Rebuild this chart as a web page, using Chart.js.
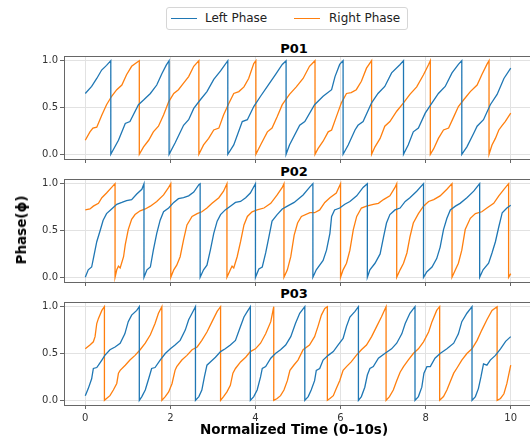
<!DOCTYPE html>
<html>
<head>
<meta charset="utf-8">
<title>Phase</title>
<script src="https://cdn.jsdelivr.net/npm/chart.js@4.4.1/dist/chart.umd.min.js"></script>
<style>
  body { margin: 0; background: #fff; font-family: "DejaVu Sans", sans-serif; }
  #fig { position: relative; width: 530px; height: 441px; overflow: hidden; background: #fff; }
  .panel { position: absolute; left: 0; }
  .ptitle { position: absolute; font-weight: bold; font-size: 13px; line-height: 13px; transform: translate(-50%, -50%); color: #000; white-space: nowrap; }
  #legend { position: absolute; left: 166px; top: 7px; width: 240px; height: 21px; border: 1px solid #d6d6d6; border-radius: 3px; background: #fff; }
  .lg-line { position: absolute; top: 10px; height: 1.4px; width: 26px; }
  .lg-text { position: absolute; top: 3px; font-size: 12px; line-height: 15px; color: #222; white-space: nowrap; }
  #ylabel { position: absolute; left: 21px; top: 230px; transform: translate(-50%, -50%) rotate(-90deg); font-weight: bold; font-size: 13.5px; white-space: nowrap; }
  #xlabel { position: absolute; left: 294px; top: 429px; transform: translate(-50%, -50%); font-weight: bold; font-size: 13.5px; white-space: nowrap; }
</style>
</head>
<body>
<div id="fig">
  <div id="legend">
    <div class="lg-line" style="left:4px;background:#1f77b4"></div>
    <div class="lg-text" style="left:38px">Left Phase</div>
    <div class="lg-line" style="left:127px;background:#ff7f0e"></div>
    <div class="lg-text" style="left:162px">Right Phase</div>
  </div>
  <div class="ptitle" style="left:294px;top:47.5px">P01</div>
  <div class="ptitle" style="left:294px;top:170.5px">P02</div>
  <div class="ptitle" style="left:294px;top:292.5px">P03</div>
  <canvas id="c1" class="panel" width="534" height="111" style="top:54px"></canvas>
  <canvas id="c2" class="panel" width="534" height="111" style="top:177px"></canvas>
  <canvas id="c3" class="panel" width="534" height="127" style="top:300px"></canvas>
  <div id="ylabel">Phase(ϕ)</div>
  <div id="xlabel">Normalized Time (0–10s)</div>
</div>
<script>
'use strict';

const subjects = ['P01', 'P02', 'P03'];
const seriesNames = ['Left Phase', 'Right Phase'];
const xTicks = [0, 2, 4, 6, 8, 10];
const yTicks = [0, 0.5, 1.0];

// [time, phase] pairs; a reset is a pair at the same time (1 -> 0)
const p01Left = [
  [0, 0.65], [0.15, 0.725], [0.27, 0.81], [0.385, 0.9], [0.5, 0.95], [0.6, 1.0],
  [0.6, 0], [0.78, 0.15], [0.94, 0.33], [1.05, 0.35], [1.25, 0.53], [1.37, 0.58], [1.53, 0.65], [1.68, 0.74], [1.8, 0.86], [1.9, 0.95], [1.97, 1.0],
  [1.97, 0], [2.11, 0.12], [2.31, 0.31], [2.43, 0.37], [2.55, 0.49], [2.7, 0.58], [2.86, 0.67], [3.02, 0.8], [3.18, 0.89], [3.35, 1.0],
  [3.35, 0], [3.49, 0.1], [3.69, 0.35], [3.81, 0.37], [3.96, 0.51], [4.12, 0.62], [4.28, 0.725], [4.47, 0.85], [4.63, 0.96], [4.72, 1.0],
  [4.72, 0], [4.8, 0.1], [5.04, 0.31], [5.16, 0.35], [5.39, 0.53], [5.59, 0.62], [5.79, 0.69], [5.87, 0.83], [5.98, 0.96], [6.06, 1.0],
  [6.06, 0], [6.18, 0.1], [6.34, 0.26], [6.41, 0.31], [6.53, 0.35], [6.73, 0.55], [6.88, 0.65], [7.04, 0.725], [7.2, 0.87], [7.4, 0.96], [7.48, 1.0],
  [7.48, 0], [7.59, 0.1], [7.71, 0.24], [7.83, 0.28], [7.99, 0.44], [8.15, 0.55], [8.3, 0.65], [8.46, 0.725], [8.62, 0.87], [8.77, 0.96], [8.85, 1.0],
  [8.85, 0], [8.97, 0.08], [9.13, 0.225], [9.21, 0.3], [9.36, 0.37], [9.52, 0.53], [9.68, 0.64], [9.84, 0.81], [10, 0.92]
];
const p01Right = [
  [0, 0.15], [0.11, 0.24], [0.18, 0.28], [0.27, 0.29], [0.39, 0.42], [0.5, 0.53], [0.62, 0.62], [0.74, 0.69], [0.86, 0.74], [0.97, 0.85], [1.09, 0.94], [1.21, 0.98], [1.27, 1.0],
  [1.27, 0], [1.37, 0.08], [1.49, 0.15], [1.6, 0.24], [1.72, 0.3], [1.84, 0.42], [1.96, 0.56], [2.08, 0.65], [2.19, 0.69], [2.31, 0.76], [2.43, 0.83], [2.55, 0.94], [2.67, 1.0],
  [2.67, 0], [2.78, 0.1], [2.9, 0.17], [3.02, 0.26], [3.14, 0.28], [3.25, 0.42], [3.37, 0.54], [3.49, 0.65], [3.61, 0.67], [3.73, 0.72], [3.84, 0.81], [3.96, 0.97], [4.01, 1.0],
  [4.01, 0], [4.12, 0.1], [4.28, 0.24], [4.39, 0.28], [4.51, 0.4], [4.63, 0.53], [4.8, 0.64], [4.96, 0.72], [5.12, 0.81], [5.27, 0.94], [5.4, 1.0],
  [5.4, 0], [5.47, 0.06], [5.59, 0.14], [5.71, 0.24], [5.79, 0.26], [5.9, 0.4], [6.02, 0.55], [6.14, 0.65], [6.25, 0.66], [6.37, 0.69], [6.49, 0.78], [6.61, 0.92], [6.73, 1.0],
  [6.73, 0], [6.81, 0.08], [6.93, 0.17], [7.04, 0.3], [7.16, 0.35], [7.32, 0.46], [7.48, 0.55], [7.63, 0.64], [7.79, 0.72], [7.95, 0.85], [8.07, 0.96], [8.11, 1.0],
  [8.11, 0], [8.19, 0.06], [8.3, 0.17], [8.42, 0.26], [8.54, 0.28], [8.66, 0.4], [8.77, 0.51], [8.89, 0.58], [9.05, 0.67], [9.21, 0.74], [9.32, 0.85], [9.44, 0.96], [9.49, 1.0],
  [9.49, 0], [9.56, 0.1], [9.64, 0.17], [9.72, 0.26], [9.8, 0.31], [9.87, 0.35], [10, 0.44]
];
const p02Left = [
  [0, 0], [0.07, 0.08], [0.15, 0.11], [0.19, 0.2], [0.27, 0.38], [0.35, 0.5], [0.42, 0.61], [0.5, 0.68], [0.62, 0.73], [0.74, 0.78], [0.86, 0.8], [0.97, 0.82], [1.09, 0.83], [1.21, 0.89], [1.33, 0.94], [1.38, 1.0],
  [1.38, 0], [1.45, 0.08], [1.53, 0.11], [1.6, 0.29], [1.68, 0.47], [1.76, 0.61], [1.84, 0.7], [1.96, 0.74], [2.08, 0.8], [2.19, 0.84], [2.31, 0.85], [2.43, 0.87], [2.55, 0.91], [2.67, 0.99], [2.7, 1.0],
  [2.7, 0], [2.78, 0.08], [2.86, 0.13], [2.94, 0.29], [3.02, 0.47], [3.1, 0.6], [3.18, 0.67], [3.29, 0.72], [3.41, 0.76], [3.53, 0.8], [3.65, 0.81], [3.77, 0.85], [3.88, 0.9], [4.0, 1.0],
  [4.0, 0], [4.08, 0.09], [4.16, 0.11], [4.24, 0.26], [4.32, 0.44], [4.39, 0.6], [4.51, 0.67], [4.63, 0.73], [4.75, 0.76], [4.91, 0.8], [5.12, 0.88], [5.27, 0.96], [5.35, 1.0],
  [5.35, 0], [5.43, 0.08], [5.59, 0.18], [5.67, 0.29], [5.75, 0.47], [5.79, 0.65], [5.86, 0.72], [5.98, 0.74], [6.1, 0.78], [6.22, 0.81], [6.38, 0.87], [6.53, 0.96], [6.63, 1.0],
  [6.63, 0], [6.69, 0.08], [6.81, 0.15], [6.93, 0.25], [7.01, 0.43], [7.08, 0.58], [7.16, 0.67], [7.28, 0.72], [7.4, 0.74], [7.52, 0.81], [7.63, 0.85], [7.79, 0.92], [7.95, 1.0],
  [7.95, 0], [8.03, 0.06], [8.15, 0.11], [8.26, 0.2], [8.34, 0.32], [8.42, 0.51], [8.5, 0.63], [8.58, 0.72], [8.7, 0.76], [8.81, 0.79], [8.97, 0.85], [9.13, 0.92], [9.27, 1.0],
  [9.27, 0], [9.35, 0.08], [9.48, 0.15], [9.56, 0.26], [9.64, 0.38], [9.72, 0.54], [9.8, 0.69], [9.91, 0.74], [10, 0.77]
];
const p02Right = [
  [0, 0.72], [0.11, 0.73], [0.19, 0.76], [0.31, 0.79], [0.39, 0.85], [0.5, 0.9], [0.62, 0.96], [0.7, 1.0],
  [0.7, 0], [0.74, 0.08], [0.78, 0.12], [0.82, 0.1], [0.9, 0.22], [0.94, 0.35], [1.01, 0.51], [1.09, 0.62], [1.17, 0.67], [1.29, 0.71], [1.41, 0.73], [1.53, 0.76], [1.68, 0.81], [1.84, 0.88], [1.96, 0.96], [2.01, 1.0],
  [2.01, 0], [2.08, 0.08], [2.15, 0.13], [2.23, 0.22], [2.31, 0.4], [2.39, 0.56], [2.51, 0.65], [2.63, 0.68], [2.74, 0.7], [2.86, 0.74], [2.98, 0.79], [3.14, 0.85], [3.25, 0.92], [3.33, 1.0],
  [3.33, 0], [3.41, 0.08], [3.45, 0.12], [3.49, 0.1], [3.57, 0.22], [3.65, 0.38], [3.73, 0.56], [3.81, 0.65], [3.92, 0.7], [4.04, 0.72], [4.2, 0.74], [4.36, 0.79], [4.51, 0.88], [4.63, 0.96], [4.67, 1.0],
  [4.67, 0], [4.75, 0.08], [4.83, 0.22], [4.91, 0.45], [4.99, 0.58], [5.08, 0.65], [5.28, 0.69], [5.39, 0.69], [5.51, 0.72], [5.63, 0.8], [5.75, 0.85], [5.9, 0.9], [6.0, 1.0],
  [6.0, 0], [6.06, 0.08], [6.14, 0.15], [6.22, 0.29], [6.3, 0.51], [6.38, 0.65], [6.49, 0.74], [6.61, 0.76], [6.77, 0.78], [6.89, 0.79], [7.01, 0.83], [7.16, 0.87], [7.28, 0.96], [7.32, 1.0],
  [7.32, 0], [7.4, 0.08], [7.48, 0.15], [7.56, 0.26], [7.63, 0.43], [7.71, 0.58], [7.83, 0.68], [7.95, 0.76], [8.07, 0.81], [8.19, 0.83], [8.34, 0.87], [8.5, 0.94], [8.62, 1.0],
  [8.62, 0], [8.7, 0.08], [8.77, 0.15], [8.85, 0.29], [8.93, 0.51], [9.05, 0.63], [9.17, 0.68], [9.32, 0.7], [9.44, 0.74], [9.6, 0.79], [9.72, 0.87], [9.84, 0.94], [9.95, 1.0],
  [9.95, 0], [10, 0.04]
];
const p03Left = [
  [0, 0.05], [0.07, 0.125], [0.15, 0.23], [0.19, 0.34], [0.27, 0.35], [0.31, 0.375], [0.39, 0.43], [0.46, 0.48], [0.58, 0.54], [0.7, 0.57], [0.82, 0.61], [0.93, 0.71], [1.01, 0.84], [1.09, 0.91], [1.21, 0.96], [1.27, 1.0],
  [1.27, 0], [1.33, 0.04], [1.41, 0.11], [1.49, 0.23], [1.56, 0.34], [1.64, 0.35], [1.76, 0.43], [1.88, 0.5], [2.0, 0.55], [2.11, 0.59], [2.23, 0.64], [2.35, 0.75], [2.43, 0.86], [2.51, 0.93], [2.59, 1.0],
  [2.59, 0], [2.67, 0.04], [2.74, 0.11], [2.8, 0.25], [2.86, 0.375], [2.94, 0.41], [3.06, 0.46], [3.18, 0.52], [3.29, 0.55], [3.41, 0.59], [3.53, 0.64], [3.65, 0.79], [3.73, 0.89], [3.81, 0.95], [3.88, 1.0],
  [3.88, 0], [3.96, 0.04], [4.04, 0.11], [4.12, 0.25], [4.16, 0.34], [4.24, 0.36], [4.36, 0.45], [4.47, 0.5], [4.59, 0.54], [4.71, 0.59], [4.83, 0.68], [4.94, 0.82], [5.04, 0.93], [5.16, 1.0],
  [5.16, 0], [5.24, 0.04], [5.31, 0.11], [5.39, 0.21], [5.43, 0.32], [5.51, 0.34], [5.59, 0.43], [5.71, 0.48], [5.83, 0.52], [5.94, 0.59], [6.06, 0.66], [6.14, 0.79], [6.22, 0.89], [6.34, 0.95], [6.42, 1.0],
  [6.42, 0], [6.49, 0.04], [6.57, 0.14], [6.63, 0.27], [6.69, 0.34], [6.77, 0.36], [6.89, 0.45], [7.04, 0.5], [7.2, 0.55], [7.32, 0.61], [7.44, 0.71], [7.52, 0.82], [7.63, 0.93], [7.75, 1.0],
  [7.75, 0], [7.83, 0.04], [7.91, 0.14], [7.96, 0.29], [8.03, 0.36], [8.11, 0.36], [8.22, 0.45], [8.34, 0.5], [8.5, 0.55], [8.66, 0.61], [8.77, 0.71], [8.85, 0.84], [8.97, 0.93], [9.09, 1.0],
  [9.09, 0], [9.17, 0.04], [9.24, 0.125], [9.3, 0.25], [9.36, 0.39], [9.44, 0.375], [9.52, 0.43], [9.64, 0.48], [9.76, 0.55], [9.88, 0.63], [10, 0.68]
];
const p03Right = [
  [0, 0.55], [0.11, 0.59], [0.19, 0.625], [0.23, 0.68], [0.27, 0.82], [0.31, 0.875], [0.39, 0.96], [0.45, 1.0],
  [0.45, 0], [0.5, 0.02], [0.58, 0.05], [0.66, 0.11], [0.74, 0.18], [0.78, 0.29], [0.82, 0.32], [0.94, 0.375], [1.05, 0.43], [1.17, 0.48], [1.29, 0.54], [1.41, 0.61], [1.53, 0.7], [1.64, 0.82], [1.72, 0.93], [1.8, 1.0],
  [1.8, 0], [1.88, 0.04], [1.96, 0.09], [2.04, 0.18], [2.11, 0.32], [2.15, 0.36], [2.27, 0.43], [2.39, 0.48], [2.51, 0.54], [2.63, 0.57], [2.74, 0.64], [2.86, 0.73], [2.98, 0.84], [3.1, 0.95], [3.18, 1.0],
  [3.18, 0], [3.25, 0.04], [3.33, 0.09], [3.41, 0.16], [3.47, 0.29], [3.53, 0.34], [3.65, 0.41], [3.77, 0.46], [3.88, 0.52], [4.0, 0.55], [4.12, 0.61], [4.24, 0.71], [4.36, 0.84], [4.43, 1.0],
  [4.43, 0], [4.51, 0.02], [4.59, 0.05], [4.67, 0.11], [4.75, 0.21], [4.81, 0.32], [4.91, 0.38], [5.0, 0.43], [5.12, 0.54], [5.27, 0.59], [5.39, 0.68], [5.47, 0.79], [5.55, 0.91], [5.63, 0.98], [5.69, 1.0],
  [5.69, 0], [5.75, 0.02], [5.83, 0.05], [5.9, 0.125], [5.98, 0.21], [6.06, 0.32], [6.14, 0.36], [6.25, 0.41], [6.37, 0.48], [6.49, 0.54], [6.61, 0.59], [6.73, 0.68], [6.85, 0.79], [6.96, 0.89], [7.07, 1.0],
  [7.07, 0], [7.15, 0.04], [7.24, 0.11], [7.32, 0.21], [7.4, 0.3], [7.48, 0.36], [7.59, 0.43], [7.71, 0.5], [7.83, 0.55], [7.95, 0.625], [8.07, 0.73], [8.15, 0.84], [8.26, 0.96], [8.33, 1.0],
  [8.33, 0], [8.42, 0.04], [8.5, 0.11], [8.58, 0.2], [8.66, 0.29], [8.73, 0.34], [8.85, 0.43], [8.97, 0.5], [9.09, 0.55], [9.21, 0.64], [9.32, 0.75], [9.44, 0.86], [9.56, 0.96], [9.68, 1.0],
  [9.68, 0], [9.76, 0.02], [9.84, 0.07], [9.91, 0.18], [10, 0.375]
];

const panels = [
  { id: 'c1', left: p01Left, right: p01Right, showX: false },
  { id: 'c2', left: p02Left, right: p02Right, showX: false },
  { id: 'c3', left: p03Left, right: p03Right, showX: true }
];

document.addEventListener('DOMContentLoaded', function () {
  Chart.defaults.font.family = '"DejaVu Sans", sans-serif';

  // matplotlib-style box around the axes
  const framePlugin = {
    id: 'frame',
    afterDraw: function (chart) {
      const a = chart.chartArea;
      const ctx = chart.ctx;
      ctx.save();
      ctx.strokeStyle = '#666';
      ctx.lineWidth = 1;
      ctx.strokeRect(a.left + 0.5, a.top + 0.5, a.right - a.left - 1, a.bottom - a.top);
      ctx.restore();
    }
  };

  function toPoints(pairs) {
    return pairs.map(function (p) { return { x: p[0], y: p[1] }; });
  }

  // keep the plot box where we put it: no extra room for edge labels
  function noEdgePadding(axis) {
    axis.paddingTop = 0;
    axis.paddingBottom = 0;
    axis.paddingLeft = 0;
    axis.paddingRight = 0;
  }

  panels.forEach(function (panel) {
    const ctx = document.getElementById(panel.id).getContext('2d');
    new Chart(ctx, {
      type: 'line',
      data: {
        datasets: [
          { label: seriesNames[0], data: toPoints(panel.left), borderColor: '#1f77b4', borderWidth: 1.3, pointRadius: 0, tension: 0 },
          { label: seriesNames[1], data: toPoints(panel.right), borderColor: '#ff7f0e', borderWidth: 1.3, pointRadius: 0, tension: 0 }
        ]
      },
      options: {
        responsive: false,
        animation: false,
        layout: { padding: { top: 2, right: 2, left: 0, bottom: 0 } },
        plugins: {
          legend: { display: false },
          tooltip: { enabled: false },
          title: { display: false }
        },
        scales: {
          x: {
            type: 'linear',
            min: -0.5,
            max: 10.5,
            afterBuildTicks: function (axis) {
              axis.ticks = xTicks.map(function (v) { return { value: v }; });
            },
            afterFit: function (axis) {
              axis.height = panel.showX ? 22 : 6;
              noEdgePadding(axis);
            },
            border: { display: false },
            grid: { color: '#e2e2e2', lineWidth: 1, drawTicks: true, tickLength: 4, tickColor: '#666' },
            ticks: {
              display: panel.showX,
              color: '#333',
              font: { size: 10 },
              padding: 3,
              maxRotation: 0,
              autoSkip: false,
              callback: function (v) { return String(v); }
            }
          },
          y: {
            min: -0.05,
            max: 1.05,
            afterBuildTicks: function (axis) {
              axis.ticks = yTicks.map(function (v) { return { value: v }; });
            },
            afterFit: function (axis) {
              axis.width = 64;
              noEdgePadding(axis);
            },
            border: { display: false },
            grid: { color: '#e2e2e2', lineWidth: 1, drawTicks: true, tickLength: 4, tickColor: '#666' },
            ticks: {
              color: '#333',
              font: { size: 10 },
              padding: 2,
              callback: function (v) { return Number(v).toFixed(1); }
            }
          }
        }
      },
      plugins: [framePlugin]
    });
  });
});
</script>
</body>
</html>
